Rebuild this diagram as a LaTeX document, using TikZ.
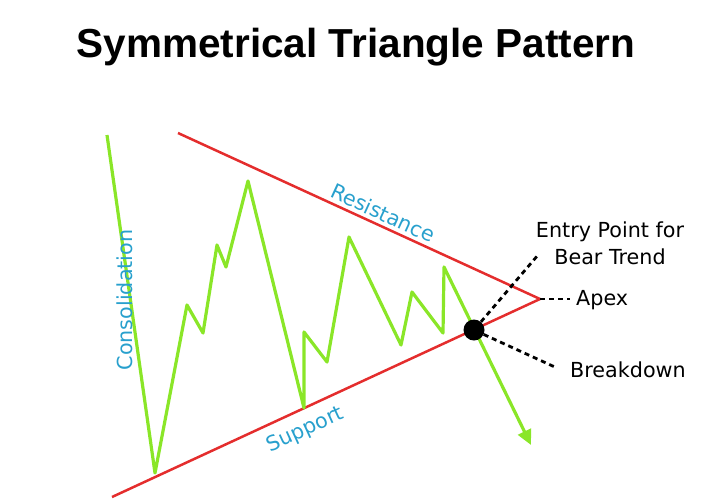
\documentclass[tikz,border=0pt]{standalone}
\usepackage{fontspec}
\setmainfont{DejaVu Sans}
\newfontfamily\titlefont{Liberation Sans}
\usepackage{xcolor}
\usetikzlibrary{arrows.meta}

\definecolor{trendgreen}{RGB}{138,230,40}
\definecolor{linered}{RGB}{228,45,45}
\definecolor{labelblue}{RGB}{40,160,205}

\begin{document}
\begin{tikzpicture}[x=1pt, y=-1pt,
        redline/.style={draw=linered, line width=2.5pt},
        greenline/.style={draw=trendgreen, line width=3.2pt, line join=round},
        leader/.style={draw=black, line width=2.8pt, dash pattern=on 5pt off 4pt},
        bluetext/.style={text=labelblue, inner sep=0pt, font=\fontsize{20.7}{25}\selectfont},
        blacktext/.style={text=black, inner sep=0pt, font=\fontsize{20.7}{27}\selectfont}]
        \useasboundingbox (0,0) rectangle (706,499);
        \coordinate (R) at (178,133);
        \coordinate (S) at (112,497);
        \coordinate (X) at (540,299);
        \coordinate (start) at (107,135);
        \coordinate (tip) at (531,445);
        \node[anchor=base, font=\titlefont\fontsize{40.5}{48}\selectfont\bfseries] (title) at (356,57) {Symmetrical Triangle Pattern};
        \draw[redline] (R) -- (X);
        \draw[redline] (S) -- (X);
        \draw[greenline, -{Triangle[length=15pt, width=14pt]}] (start) -- (155,473) -- (187,305) -- (203,333)
            -- (217,245) -- (226,267) -- (248,181) -- (304,408) -- (304,332) -- (327,362) -- (349,237)
            -- (401,345) -- (412,292) -- (443,333) -- (444,267) -- (tip);
        \node[circle, fill=black, minimum size=21pt, inner sep=0pt] (brk) at (474,330) {};
        \coordinate (entryend) at (538,255);
        \coordinate (apexend) at (570,299);
        \coordinate (brkend) at (557,368);
        \draw[leader] (brk) -- (entryend);
        \draw[leader] (X) -- (apexend);
        \draw[leader] (brk) -- (brkend);
        \node[blacktext, anchor=north, align=center] (entry) at (610,222) {Entry Point for\\Bear Trend};
        \node[blacktext, anchor=base west] (apex) at (576,305) {Apex};
        \node[blacktext, anchor=base west] (breakdown) at (570,377) {Breakdown};
        \node[bluetext, anchor=base, rotate=90] (consol) at (132,300) {Consolidation};
        \node[bluetext, anchor=base, rotate=-24.6] (resist) at (380,220) {Resistance};
        \node[bluetext, anchor=base, rotate=24.8] (support) at (308,435) {Support};
    \end{tikzpicture}
\end{document}
